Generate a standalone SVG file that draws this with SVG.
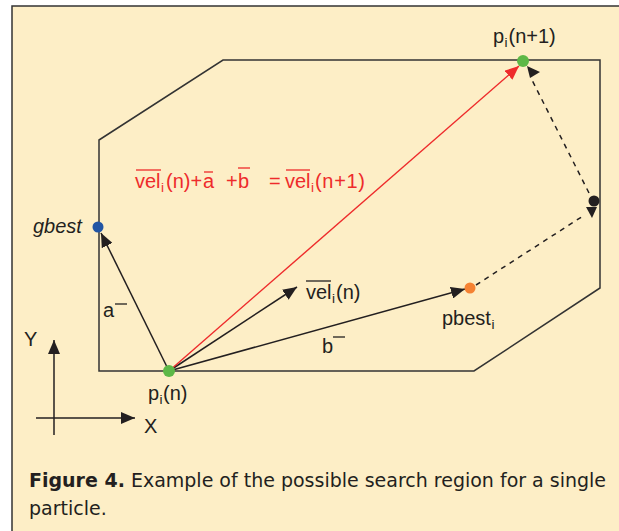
<svg xmlns="http://www.w3.org/2000/svg" width="619" height="531" viewBox="0 0 619 531">
<defs>
<marker id="ah" viewBox="0 0 14 12" refX="14" refY="6" markerWidth="14" markerHeight="12" markerUnits="userSpaceOnUse" orient="auto"><path d="M0,0 L14,6 L0,12 z" fill="#231F20"/></marker>
<marker id="ahr" viewBox="0 0 14 12" refX="14" refY="6" markerWidth="14" markerHeight="12" markerUnits="userSpaceOnUse" orient="auto"><path d="M0,0 L14,6 L0,12 z" fill="#EE2B2B"/></marker>
</defs>
<style>
.lbl{font-family:"Liberation Sans",Arial,Helvetica,sans-serif;font-size:20px;fill:#231F20}
.red{fill:#EE2B2B}
.sub{font-size:13.5px}
.edge{stroke:#231F20;stroke-width:1.5;fill:none}
.redge{stroke:#EE2B2B;stroke-width:1.4;fill:none}
.dash{stroke-dasharray:5 5}
.ol{stroke:#231F20;stroke-width:1.3}
.olr{stroke:#EE2B2B;stroke-width:1.3}
.cap{font-family:"DejaVu Sans","Liberation Sans",sans-serif;font-size:19px;fill:#231F20}
</style>
<rect x="0" y="0" width="619" height="531" fill="#ffffff"/>
<rect x="12" y="6" width="620" height="540" fill="#FDEEC6" stroke="#333333" stroke-width="1.5"/>
<polygon id="region" points="99,140 223,60 600,60 600,288 474,371 99,371" fill="none" stroke="#333333" stroke-width="1.5"/>
<g id="axes">
<line class="edge" x1="54" y1="435" x2="54" y2="340" marker-end="url(#ah)"/>
<line class="edge" x1="36" y1="418" x2="135" y2="418" marker-end="url(#ah)"/>
<text class="lbl" x="24" y="346">Y</text>
<text class="lbl" x="144" y="433">X</text>
</g>
<g id="connectors">
<line class="edge" x1="169" y1="371" x2="101" y2="233" marker-end="url(#ah)"/>
<line class="edge" x1="169" y1="371" x2="297" y2="287" marker-end="url(#ah)"/>
<line class="edge" x1="169" y1="371" x2="465" y2="289" marker-end="url(#ah)"/>
<line class="redge" x1="169" y1="371" x2="519" y2="66" marker-end="url(#ahr)"/>
<line class="edge dash" x1="476" y1="285" x2="583" y2="216"/>
<polygon points="586,207 597,207 592,218" fill="#231F20"/>
<line class="edge dash" x1="589" y1="193" x2="532" y2="80"/>
<polygon points="527,66 530,78 540,72" fill="#231F20"/>
<text class="lbl" x="103" y="317">a</text>
<line class="ol" x1="115" y1="304" x2="127" y2="304"/>
<text class="lbl" x="322" y="353">b</text>
<line class="ol" x1="333" y1="337" x2="345" y2="337"/>
<text class="lbl" x="306" y="299">vel</text>
<text class="lbl sub" x="332" y="303">i</text>
<text class="lbl" x="336" y="299">(n)</text>
<line class="ol" x1="306" y1="281" x2="331" y2="281"/>
</g>
<g id="equation">
<text class="lbl red" x="135" y="188">vel</text>
<text class="lbl red sub" x="161" y="192">i</text>
<text class="lbl red" x="166" y="188">(n)+</text>
<text class="lbl red" x="203" y="188">a</text>
<text class="lbl red" x="226" y="188">+</text>
<text class="lbl red" x="238" y="188">b</text>
<text class="lbl red" x="269" y="188">=</text>
<text class="lbl red" x="285" y="188">vel</text>
<text class="lbl red sub" x="311" y="192">i</text>
<text class="lbl red" x="315" y="188" textLength="50">(n+1)</text>
<line class="olr" x1="136" y1="170" x2="161" y2="170"/>
<line class="olr" x1="204" y1="172" x2="213" y2="172"/>
<line class="olr" x1="238" y1="168" x2="250" y2="168"/>
<line class="olr" x1="286" y1="170" x2="310" y2="170"/>
</g>
<g id="node-gbest">
<circle cx="98" cy="227" r="5.5" fill="#2255A4"/>
<text class="lbl" x="33" y="233" font-style="italic" font-size="21">gbest</text>
</g>
<g id="node-pi-n">
<circle cx="169" cy="371" r="6" fill="#5DB847"/>
<text class="lbl" x="148" y="400">p</text>
<text class="lbl sub" x="159.5" y="404">i</text>
<text class="lbl" x="163" y="400">(n)</text>
</g>
<g id="node-pbest">
<circle cx="470" cy="288" r="5.5" fill="#F58233"/>
<text class="lbl" x="442" y="325">pbest</text>
<text class="lbl sub" x="491.5" y="329">i</text>
</g>
<g id="node-pi-n1">
<circle cx="523" cy="61" r="6" fill="#5DB847"/>
<text class="lbl" x="493" y="43">p</text>
<text class="lbl sub" x="504.5" y="47">i</text>
<text class="lbl" x="508.5" y="43">(n+1)</text>
</g>
<g id="node-corner">
<circle cx="594" cy="201" r="5.5" fill="#231F20"/>
</g>
<g id="caption">
<text class="cap" x="29" y="487" textLength="577" lengthAdjust="spacing"><tspan font-weight="bold">Figure 4.</tspan> Example of the possible search region for a single</text>
<text class="cap" x="29" y="515">particle.</text>
</g>
</svg>
